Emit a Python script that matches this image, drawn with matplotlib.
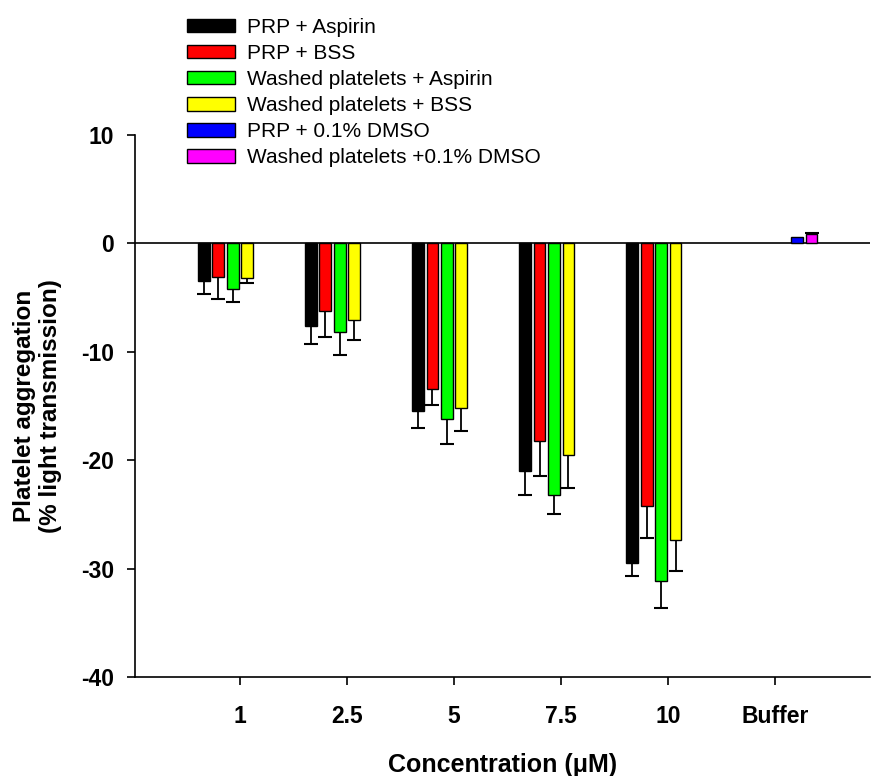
import matplotlib
matplotlib.use("Agg")
import matplotlib.pyplot as plt
import numpy as np

plt.rcParams["font.family"] = ["Liberation Sans", "DejaVu Sans"]
plt.rcParams["axes.unicode_minus"] = False

nan = np.nan
groups = ["1", "2.5", "5", "7.5", "10", "Buffer"]
series = ["PRP + Aspirin", "PRP + BSS", "Washed platelets + Aspirin",
          "Washed platelets + BSS", "PRP + 0.1% DMSO", "Washed platelets +0.1% DMSO"]
colors = ["#000000", "#ff0000", "#00ff00", "#ffff00", "#0000ff", "#ff00ff"]

prp_aspirin = [-3.5, -7.6, -15.5, -21.0, -29.5, nan]
prp_aspirin_err = [1.15, 1.7, 1.5, 2.2, 1.2, nan]
prp_bss = [-3.1, -6.2, -13.4, -18.2, -24.2, nan]
prp_bss_err = [2.0, 2.4, 1.5, 3.3, 3.0, nan]
wp_aspirin = [-4.2, -8.2, -16.2, -23.2, -31.1, nan]
wp_aspirin_err = [1.2, 2.1, 2.3, 1.8, 2.5, nan]
wp_bss = [-3.2, -7.1, -15.2, -19.5, -27.4, nan]
wp_bss_err = [0.45, 1.8, 2.1, 3.1, 2.8, nan]
prp_dmso = [nan, nan, nan, nan, nan, 0.57]
prp_dmso_err = [nan, nan, nan, nan, nan, 0.0]
wp_dmso = [nan, nan, nan, nan, nan, 0.85]
wp_dmso_err = [nan, nan, nan, nan, nan, 0.1]

values = [prp_aspirin, prp_bss, wp_aspirin, wp_bss, prp_dmso, wp_dmso]
errors = [prp_aspirin_err, prp_bss_err, wp_aspirin_err, wp_bss_err, prp_dmso_err, wp_dmso_err]

x = np.arange(len(groups))
step = 0.135
w = 0.11

fig = plt.figure(figsize=(8.74, 7.76), dpi=100)
ax = fig.add_axes([0.1545, 0.1276, 0.8405, 0.6984])

ax.axhline(0, color="black", lw=1.2, zorder=1)

for k, (vals, errs, col, lab) in enumerate(zip(values, errors, colors, series)):
    v = np.array(vals, dtype=float)
    e = np.array(errs, dtype=float)
    xs = x + (k - 2.5) * step
    ax.bar(xs, v, w, color=col, edgecolor="black", linewidth=1.0, label=lab, zorder=3)
    # one-sided error bars, pointing away from zero
    m = ~np.isnan(v) & (np.nan_to_num(e) > 0)
    end = v[m] + np.sign(v[m]) * e[m]
    ax.vlines(xs[m], v[m], end, color="black", lw=1.3, zorder=2)
    ax.plot(xs[m], end, ls="none", marker="_", ms=10, mew=1.5, color="black", zorder=2)

ax.set_xlim(-0.98, 5.88)
ax.set_ylim(-40, 10)
ax.set_yticks([10, 0, -10, -20, -30, -40])
ax.set_xticks(x)
ax.set_xticklabels(groups)
for lbl in ax.get_xticklabels() + ax.get_yticklabels():
    lbl.set_fontweight("bold")
    lbl.set_fontsize(16.5)
ax.tick_params(axis="both", direction="out", length=6, width=1.2, color="black")
ax.tick_params(axis="x", pad=14)
ax.tick_params(axis="y", pad=9)
ax.spines["top"].set_visible(False)
ax.spines["right"].set_visible(False)
ax.spines["left"].set_linewidth(1.2)
ax.spines["bottom"].set_linewidth(1.2)

ax.set_xlabel("Concentration (\u03bcM)", fontsize=18, fontweight="bold")
ax.xaxis.set_label_coords(0.5, -0.14)
ax.set_ylabel("Platelet aggregation\n(% light transmission)", fontsize=17.5,
              fontweight="bold", linespacing=1.2)
ax.yaxis.set_label_coords(-0.099, 0.5)

fig.legend(loc="upper left", bbox_to_anchor=(0.214, 0.977), frameon=False,
           fontsize=15, handlelength=2.3, handleheight=0.62, handletextpad=0.6,
           labelspacing=0.34, borderpad=0, borderaxespad=0)

fig.savefig("out.png", dpi=100)
